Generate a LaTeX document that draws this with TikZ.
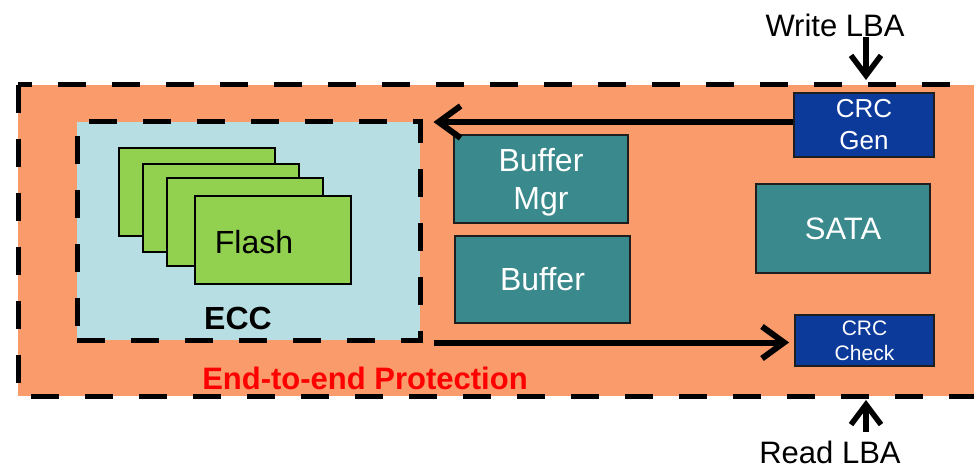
\documentclass[tikz,border=0pt]{standalone}
\usepackage{fontspec}
\setmainfont{Liberation Sans}
\usetikzlibrary{arrows.meta}
\definecolor{orangefill}{HTML}{F99B6B}
\definecolor{eccblue}{HTML}{B7DFE3}
\definecolor{flashg}{HTML}{92D050}
\definecolor{tealc}{HTML}{3A898C}
\definecolor{crcblue}{HTML}{0C3A9A}
\definecolor{darkb}{HTML}{1E1E1E}
\definecolor{protred}{HTML}{FF0000}
\begin{document}
\begin{tikzpicture}[x=1pt,y=-1pt,
  tealbox/.style={draw=darkb, line width=1.8pt, fill=tealc, text=white, inner sep=0pt, align=center, font=\fontsize{32}{38}\selectfont},
  crcbox/.style={draw=darkb, line width=1.8pt, fill=crcblue, text=white, inner sep=0pt, align=center},
  flashbox/.style={draw=black, line width=1.8pt, fill=flashg, minimum width=156pt, minimum height=88pt, inner sep=0pt},
  dashbox/.style={draw=black, line width=5pt, dash pattern=on 28pt off 26pt},
  arr/.style={line width=6pt, -{Straight Barb[length=22pt,width=32pt]}},
  lbaarr/.style={line width=5.5pt, -{Straight Barb[length=20pt,width=30pt]}},
  lbl/.style={inner sep=0pt, font=\fontsize{32}{38}\selectfont}
]
\useasboundingbox (0,0) rectangle (974,470);
\clip (0,0) rectangle (974,470);
% outer protection region
\draw[dashbox, fill=orangefill] (18,85) rectangle (1010,396);
% ECC region
\node[dashbox, fill=eccblue, minimum width=343pt, minimum height=218pt, inner sep=0pt] (ecc) at (248.5,231) {};
% flash stack
\node[flashbox] (f1) at (197,192) {};
\node[flashbox] (f2) at (221,208) {};
\node[flashbox] (f3) at (245,222) {};
\node[flashbox] (f4) at (273,240) {};
\node[lbl] (flashlbl) at (254,242) {Flash};
\node[lbl, font=\fontsize{32}{38}\selectfont\bfseries] (ecclbl) at (238,318) {ECC};
\node[lbl, text=protred, font=\fontsize{31}{36}\selectfont\bfseries] (prot) at (365,378) {End-to-end Protection};
% buffer blocks
\node[tealbox, text depth=0pt, minimum width=174pt, minimum height=88pt] (bufmgr) at (541,179) {Buffer\\Mgr};
\node[tealbox, minimum width=175pt, minimum height=87pt] (buffer) at (542.5,279.5) {Buffer};
\node[tealbox, font=\fontsize{31}{36}\selectfont, minimum width=174pt, minimum height=89pt] (sata) at (843,228.5) {SATA};
% CRC blocks
\node[crcbox, minimum width=140pt, minimum height=64pt, font=\fontsize{26}{32}\selectfont] (crcgen) at (864,125) {CRC\\Gen};
\node[crcbox, minimum width=139pt, minimum height=51pt, font=\fontsize{21}{25}\selectfont] (crccheck) at (864.5,340.5) {CRC\\Check};
% LBA labels
\node[lbl, font=\fontsize{31}{36}\selectfont] (wlba) at (835,25) {Write LBA};
\node[lbl, font=\fontsize{31}{36}\selectfont] (rlba) at (830,452) {Read LBA};
\coordinate (wtip) at (866,80);
\coordinate (rtail) at (866,432);
\coordinate (rtip) at (866,400);
% connectors
\draw[arr, shorten >=11pt] ([yshift=3pt]crcgen.west) -- ([yshift=3pt]crcgen.west -| ecc.east);
\draw[arr, shorten <=11pt, shorten >=5pt] ([yshift=-2pt]crccheck.west -| ecc.east) -- ([yshift=-2pt]crccheck.west);
\draw[lbaarr] (wlba.south -| wtip) -- (wtip);
\draw[lbaarr] (rtail) -- (rtip);
\end{tikzpicture}
\end{document}
